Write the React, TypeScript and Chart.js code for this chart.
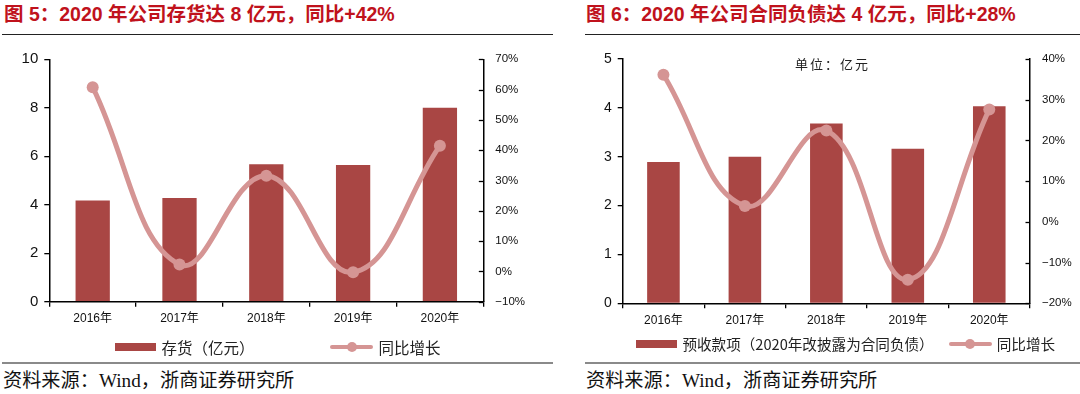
import React, { useEffect, useRef } from "react";
import { Chart, registerables } from "chart.js";

Chart.register(...registerables);

// ---------- data ----------
const categories = ["2016年", "2017年", "2018年", "2019年", "2020年"];
const inventoryValues = [4.18, 4.28, 5.67, 5.64, 8.0];
const inventoryYoY = [60.8, 2.3, 31.6, -0.3, 41.5];
const contractValues = [2.89, 3.0, 3.68, 3.16, 4.03];
const contractYoY = [36.1, 3.9, 22.4, -14.2, 27.6];

const leftTitle = "图 5：2020 年公司存货达 8 亿元，同比+42%";
const rightTitle = "图 6：2020 年公司合同负债达 4 亿元，同比+28%";
const leftBarLabel = "存货（亿元）";
const rightBarLabel = "预收款项（2020年改披露为合同负债）";
const lineLabel = "同比增长";
const sourceText = "资料来源：Wind，浙商证券研究所";
const unitText = "单位：亿元";

const leftValueTicks = [0, 10, 2];
const leftPctTicks = [-10, 70, 10];
const rightValueTicks = [0, 5, 1];
const rightPctTicks = [-20, 40, 10];

// ---------- styles ----------
const BAR = "#A94644";
const LINE = "#D59594";
const RED = "#C0121C";
const SANS = '"Liberation Sans", Arial, "Noto Sans CJK SC", sans-serif';
const CJK = '"Noto Sans CJK SC", sans-serif';
const SERIF_MIX = '"Liberation Serif", "Noto Sans CJK SC", serif';

if (typeof document !== "undefined") {
  document.body.style.margin = "0";
  document.body.style.overflow = "hidden";
}

const innerTicks = {
  id: "innerTicks",
  afterDraw(chart: any) {
    const s = chart.scales.y1;
    if (!s) return;
    const ctx = chart.ctx;
    const right = chart.chartArea.right;
    ctx.save();
    ctx.strokeStyle = "#000";
    ctx.lineWidth = 1.3;
    s.ticks.forEach((_: any, i: number) => {
      const y = Math.round(s.getPixelForTick(i)) + 0.5;
      ctx.beginPath();
      ctx.moveTo(right - 4.5, y);
      ctx.lineTo(right, y);
      ctx.stroke();
    });
    ctx.restore();
  },
};

const fmtPct = (v: any) => {
  const n = Number(v);
  return (n < 0 ? "\u2212" + Math.abs(n) : String(n)) + "%";
};

type ComboProps = {
  bars: number[];
  line: number[];
  barLabel: string;
  yTicks: number[];
  y1Ticks: number[];
  padding: { left: number; right: number; top: number; bottom: number };
  barPct: number;
  yFont: number;
  y1Font: number;
};

function Combo(p: ComboProps) {
  const ref = useRef<HTMLCanvasElement | null>(null);
  useEffect(() => {
    if (!ref.current) return;
    const chart = new Chart(ref.current, {
      type: "bar",
      data: {
        labels: categories,
        datasets: [
          {
            type: "line",
            label: lineLabel,
            data: p.line,
            yAxisID: "y1",
            borderColor: LINE,
            backgroundColor: LINE,
            borderWidth: 5,
            pointRadius: 6,
            pointBackgroundColor: LINE,
            pointBorderWidth: 0,
            tension: 0.42,
            order: 0,
          } as any,
          {
            type: "bar",
            label: p.barLabel,
            data: p.bars,
            yAxisID: "y",
            backgroundColor: BAR,
            categoryPercentage: 1,
            barPercentage: p.barPct,
            order: 1,
          } as any,
        ],
      },
      options: {
        animation: false,
        responsive: false,
        maintainAspectRatio: false,
        layout: { padding: p.padding },
        plugins: { legend: { display: false }, tooltip: { enabled: false } },
        scales: {
          x: {
            grid: { drawOnChartArea: false, tickLength: 5, color: "#000", lineWidth: 1.3 },
            border: { color: "#000", width: 1.5 },
            ticks: { color: "#111", font: { family: SANS, size: 12 }, padding: 5, maxRotation: 0 },
            afterFit: (s: any) => {
              s.height = 30;
            },
          },
          y: {
            position: "left",
            min: p.yTicks[0],
            max: p.yTicks[1],
            ticks: { stepSize: p.yTicks[2], color: "#111", font: { family: SANS, size: p.yFont }, padding: 6 },
            grid: { drawOnChartArea: false, tickLength: 5, color: "#000", lineWidth: 1.3 },
            border: { color: "#000", width: 1.5 },
            afterFit: (s: any) => {
              s.width = 49;
            },
          },
          y1: {
            position: "right",
            min: p.y1Ticks[0],
            max: p.y1Ticks[1],
            ticks: {
              stepSize: p.y1Ticks[2],
              color: "#111",
              font: { family: SANS, size: p.y1Font },
              padding: 12,
              callback: fmtPct,
            },
            grid: { display: false, drawTicks: false, drawOnChartArea: false },
            border: { color: "#000", width: 1.5 },
            afterFit: (s: any) => {
              s.width = 45;
            },
          },
        },
      } as any,
      plugins: [innerTicks],
    });
    return () => chart.destroy();
  }, []);
  return <canvas ref={ref} width={540} height={300} style={{ display: "block", width: 540, height: 300 }} />;
}

function Legend(props: {
  x: number;
  y: number;
  barLabel: string;
  font: number;
  gap: number;
}) {
  const { x, y, barLabel, font, gap } = props;
  const text: React.CSSProperties = {
    fontFamily: CJK,
    fontSize: font,
    color: "#222",
    lineHeight: "20px",
    whiteSpace: "nowrap",
  };
  return (
    <div
      style={{
        position: "absolute",
        left: x,
        top: y - 10,
        height: 20,
        display: "flex",
        alignItems: "center",
      }}
    >
      <div style={{ width: 41, height: 8, background: BAR, marginRight: 5 }} />
      <span style={text}>{barLabel}</span>
      <div style={{ width: gap }} />
      <div style={{ position: "relative", width: 43, height: 12, marginRight: 5 }}>
        <div style={{ position: "absolute", left: 0, top: 4, width: 43, height: 4, background: LINE, borderRadius: 2 }} />
        <div
          style={{
            position: "absolute",
            left: 16.5,
            top: 1,
            width: 10,
            height: 10,
            borderRadius: 5,
            background: LINE,
          }}
        />
      </div>
      <span style={text}>{lineLabel}</span>
    </div>
  );
}

export default function App() {
  const titleStyle: React.CSSProperties = {
    position: "absolute",
    top: 4,
    fontFamily: SANS,
    fontWeight: 700,
    fontSize: 19.5,
    lineHeight: "21px",
    color: RED,
    whiteSpace: "nowrap",
  };
  const srcStyle: React.CSSProperties = {
    position: "absolute",
    top: 370,
    fontFamily: SERIF_MIX,
    fontSize: 19.2,
    lineHeight: "22px",
    color: "#111",
    whiteSpace: "nowrap",
  };
  const rule = (left: number, width: number, top: number, h: number, c: string): React.CSSProperties => ({
    position: "absolute",
    left,
    width,
    top,
    height: h,
    background: c,
  });
  return (
    <div style={{ position: "relative", width: 1080, height: 394, background: "#fff", overflow: "hidden" }}>
      <div style={{ ...titleStyle, left: 4 }}>{leftTitle}</div>
      <div style={{ ...titleStyle, left: 586 }}>{rightTitle}</div>
      <div style={rule(2, 551, 33.5, 1.5, "#222")} />
      <div style={rule(585, 495, 33.5, 1.5, "#222")} />

      <div style={{ position: "absolute", left: 0, top: 40 }}>
        <Combo
          bars={inventoryValues}
          line={inventoryYoY}
          barLabel={leftBarLabel}
          yTicks={leftValueTicks}
          y1Ticks={leftPctTicks}
          padding={{ left: 0.3, right: 11.7, top: 19.3, bottom: 8.3 }}
          barPct={0.395}
          yFont={15}
          y1Font={11.5}
        />
      </div>
      <div style={{ position: "absolute", left: 540, top: 40 }}>
        <Combo
          bars={contractValues}
          line={contractYoY}
          barLabel={rightBarLabel}
          yTicks={rightValueTicks}
          y1Ticks={rightPctTicks}
          padding={{ left: 33.7, right: 5, top: 15.7, bottom: 6.7 }}
          barPct={0.4}
          yFont={14}
          y1Font={11.5}
        />
      </div>
      <div
        style={{
          position: "absolute",
          left: 795,
          top: 55,
          fontFamily: CJK,
          fontSize: 13,
          letterSpacing: 2,
          lineHeight: "18px",
          color: "#222",
          whiteSpace: "nowrap",
        }}
      >
        {unitText}
      </div>

      <Legend x={115.4} y={347} barLabel={leftBarLabel} font={15.5} gap={76} />
      <Legend x={636.4} y={344.4} barLabel={rightBarLabel} font={14.6} gap={15} />

      <div style={rule(2, 551, 362, 2, "#8a8a8a")} />
      <div style={rule(585, 495, 362, 2, "#8a8a8a")} />
      <div style={{ ...srcStyle, left: 3 }}>{sourceText}</div>
      <div style={{ ...srcStyle, left: 586 }}>{sourceText}</div>
    </div>
  );
}
